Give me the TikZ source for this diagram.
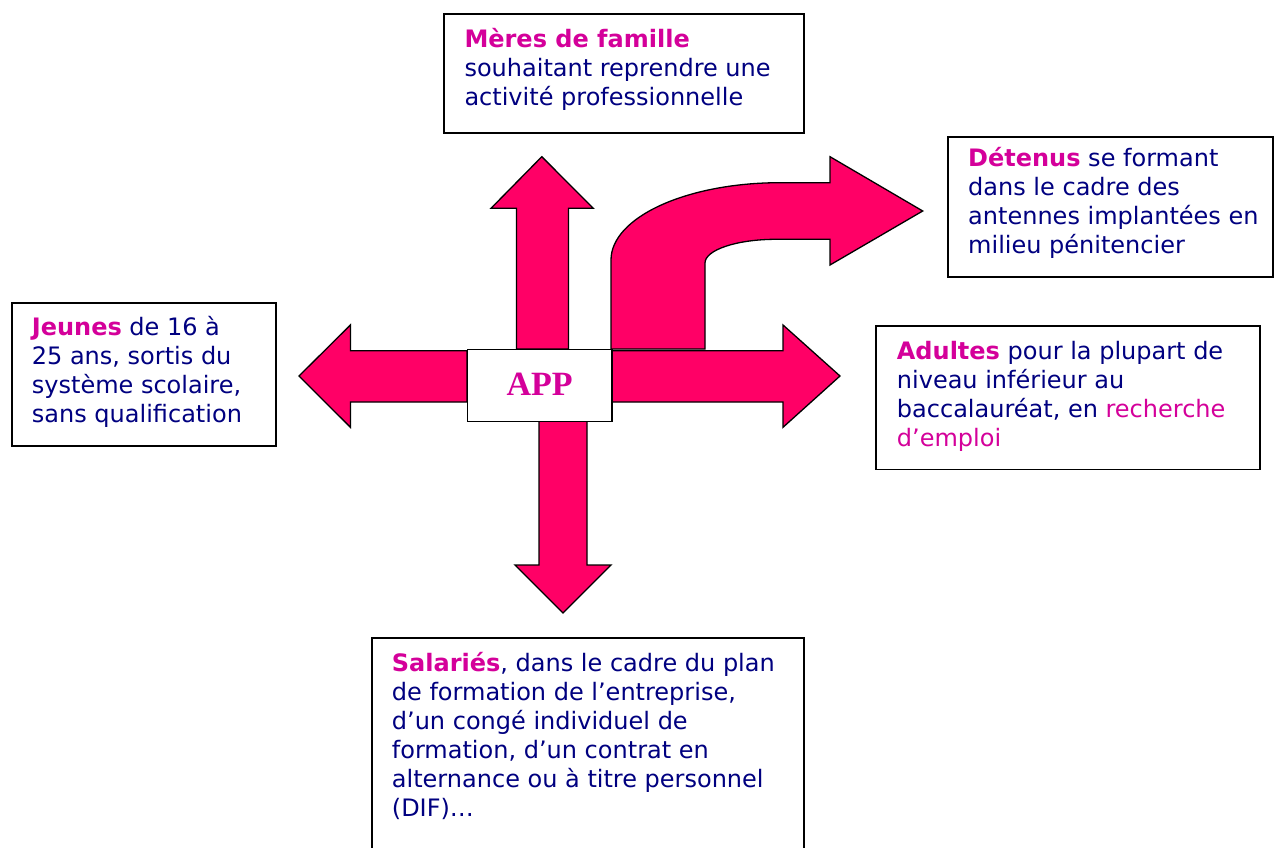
\documentclass[tikz,border=0pt]{standalone}
\usepackage{fontspec}
\setmainfont{DejaVu Sans}
\newfontfamily\appfont{Liberation Serif}
\definecolor{pinkc}{HTML}{D4009A}
\definecolor{navyc}{HTML}{000080}
\definecolor{arrowc}{HTML}{FF0066}
\newcommand{\hl}[1]{\textcolor{pinkc}{\textbf{#1}}}
\newcommand{\fl}{\rule{0pt}{22pt}}
\begin{document}
\begin{tikzpicture}[x=1pt,y=-1pt,
  box/.style={draw=black, line width=1.8pt, fill=white, anchor=north west, inner sep=0pt},
  txt/.style={anchor=north west, inner sep=0pt, align=left, text=navyc,
    font=\fontsize{24}{29}\selectfont},
  bigarrow/.style={draw=black, line width=1.3pt, fill=arrowc, line join=miter}]
\useasboundingbox (0,0) rectangle (1274,848);
\fill[white] (0,0) rectangle (1274,848);

% boxes
\node[box, minimum width=360pt, minimum height=119pt] (bm) at (443.3,13.3) {};
\node[box, minimum width=325pt, minimum height=140pt] (bd) at (947.3,136) {};
\node[box, minimum width=264pt, minimum height=143.5pt] (bj) at (11,301.7) {};
\node[box, minimum width=384pt, minimum height=143.5pt] (ba) at (875,325) {};
\node[box, minimum width=432pt, minimum height=230pt] (bs) at (371,636.7) {};

% texts
\node[txt] (tm) at (464.3,25.3) {\fl\hl{Mères de famille}\\souhaitant reprendre une\\activité professionnelle};
\node[txt] (td) at (968,144.7) {\fl\hl{Détenus} se formant\\dans le cadre des\\antennes implantées en\\milieu pénitencier};
\node[txt] (tj) at (31.7,313) {\fl\hl{Jeunes} de 16 à\\25 ans, sortis du\\système scolaire,\\sans qualification};
\node[txt] (ta) at (896.7,337.3) {\fl\hl{Adultes} pour la plupart de\\niveau inférieur au\\baccalauréat, en \textcolor{pinkc}{recherche}\\\textcolor{pinkc}{d’emploi}};
\node[txt] (ts) at (391.7,649.7) {\fl\hl{Salariés}, dans le cadre du plan\\de formation de l’entreprise,\\d’un congé individuel de\\formation, d’un contrat en\\alternance ou à titre personnel\\(DIF)…};

% arrows
\draw[bigarrow] (611,349) -- (611,260)
  .. controls (611,217.3) and (686.7,182.7) .. (780,182.7)
  -- (830,182.7) -- (830,156.7) -- (922.7,211) -- (830,265) -- (830,239.3)
  -- (776,239.3) .. controls (736.8,239.3) and (705,249.9) .. (705,263)
  -- (705,349) -- cycle;
\draw[bigarrow] (516.5,349) -- (516.5,208.3) -- (491,208.3) -- (541.8,156.7)
  -- (593.3,208.3) -- (568.4,208.3) -- (568.4,349) -- cycle;
\draw[bigarrow] (467,350.7) -- (350.4,350.7) -- (350.4,325) -- (299,376)
  -- (350.4,427.3) -- (350.4,402) -- (467,402) -- cycle;
\draw[bigarrow] (611,350.7) -- (783,350.7) -- (783,325) -- (840,376)
  -- (783,427.3) -- (783,402) -- (611,402) -- cycle;
\draw[bigarrow] (539,421) -- (539,565) -- (515,565) -- (563,613)
  -- (611,565) -- (587,565) -- (587,421) -- cycle;

% APP
\node[draw=black, line width=1.3pt, fill=white, anchor=north west, inner sep=0pt,
  minimum width=144.5pt, minimum height=72pt, text=pinkc,
  font=\appfont\bfseries\fontsize{34}{34}\selectfont] (app) at (466.7,349) {\raisebox{3pt}{APP}};
\end{tikzpicture}
\end{document}
